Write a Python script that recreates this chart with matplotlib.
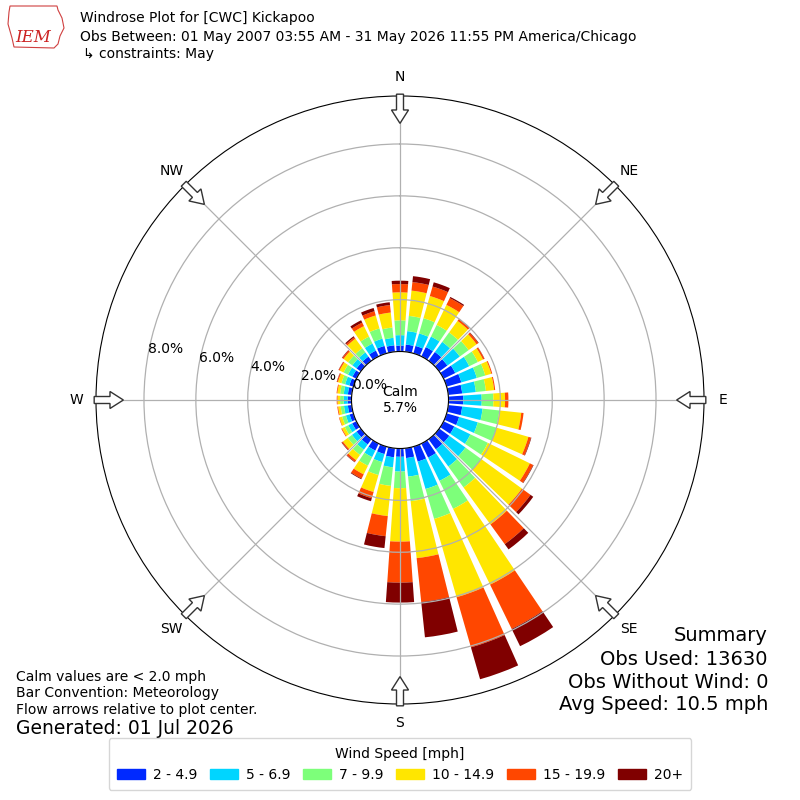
import numpy as np
import matplotlib
matplotlib.use('Agg')
import matplotlib.pyplot as plt
from matplotlib.patches import FancyArrow, Rectangle, Polygon

# wind directions (deg, meteorological) of each bar
directions = np.arange(0, 360, 10)

speed_labels = ['2 - 4.9', '5 - 6.9', '7 - 9.9', '10 - 14.9', '15 - 19.9', '20+']

# cumulative frequency (%) at the top of each speed band
cum_2_5 = [0.23, 0.28, 0.30, 0.40, 0.42, 0.39, 0.50, 0.59, 0.54, 0.57, 0.54, 0.50,
           0.46, 0.48, 0.48, 0.60, 0.60, 0.38, 0.32, 0.35, 0.30, 0.30, 0.25, 0.20,
           0.18, 0.15, 0.15, 0.15, 0.15, 0.16, 0.17, 0.20, 0.20, 0.25, 0.30, 0.25]
cum_2_7 = [0.63, 0.80, 0.80, 0.85, 0.90, 0.98, 1.10, 1.21, 1.07, 1.28, 1.33, 1.25,
           1.15, 1.25, 1.30, 1.60, 1.70, 1.10, 0.89, 0.74, 0.62, 0.58, 0.50, 0.42,
           0.35, 0.30, 0.30, 0.30, 0.31, 0.33, 0.36, 0.40, 0.40, 0.55, 0.59, 0.54]
cum_2_10 = [1.20, 1.39, 1.41, 1.35, 1.35, 1.40, 1.47, 1.55, 1.46, 1.73, 1.98, 2.00,
            1.90, 2.00, 2.30, 2.80, 2.90, 2.05, 1.53, 1.46, 1.14, 0.95, 0.75, 0.62,
            0.50, 0.45, 0.43, 0.44, 0.45, 0.48, 0.55, 0.60, 0.60, 0.85, 1.00, 0.94]
cum_2_15 = [2.28, 2.37, 2.30, 2.21, 1.90, 1.78, 1.69, 1.79, 1.78, 2.18, 2.83, 3.28,
            3.70, 3.94, 4.06, 6.05, 6.04, 4.26, 3.59, 2.63, 1.82, 1.32, 1.00, 0.85,
            0.62, 0.56, 0.53, 0.54, 0.56, 0.62, 0.72, 0.82, 1.05, 1.30, 1.52, 1.52]
cum_2_20 = [2.60, 2.70, 2.68, 2.50, 1.98, 1.86, 1.75, 1.83, 1.82, 2.31, 2.92, 3.38,
            3.84, 4.35, 5.00, 7.95, 8.05, 5.96, 5.17, 3.41, 2.07, 1.50, 1.08, 0.90,
            0.65, 0.58, 0.56, 0.57, 0.59, 0.66, 0.76, 0.88, 1.12, 1.45, 1.69, 1.81]
cum_all = [2.73, 2.93, 2.85, 2.55, 2.00, 1.88, 1.76, 1.83, 1.82, 2.31, 2.92, 3.40,
           3.86, 4.48, 5.25, 8.69, 9.33, 7.33, 5.94, 3.87, 2.19, 1.53, 1.10, 0.92,
           0.65, 0.58, 0.56, 0.57, 0.59, 0.67, 0.77, 0.90, 1.17, 1.55, 1.82, 1.92]

calm_pct = 5.7
obs_used = 13630
obs_no_wind = 0
avg_speed = 10.5

compass = ['N', 'NE', 'E', 'SE', 'S', 'SW', 'W', 'NW']
ring_values = [0, 2, 4, 6, 8]

tops = np.array([cum_2_5, cum_2_7, cum_2_10, cum_2_15, cum_2_20, cum_all])
bottoms = np.vstack([np.zeros(len(directions)), tops[:-1]])
colors = plt.cm.jet(np.linspace(0, 1, 7))[1:]

fig = plt.figure(figsize=(8, 8), dpi=100)
ax = fig.add_axes([0.12, 0.12, 0.76, 0.76], projection='polar')
ax.set_theta_zero_location('N')
ax.set_theta_direction(-1)

theta = np.radians(directions)
for i in range(len(speed_labels)):
    ax.bar(theta, tops[i] - bottoms[i], bottom=bottoms[i], width=np.radians(8),
           color=colors[i], linewidth=0)

ax.set_rorigin(-1.87)
ax.set_ylim(0, 9.85)
ax.set_rgrids(ring_values, [f'{v:.1f}%' for v in ring_values], fontsize=10)
ax.set_rlabel_position(280)
ax.set_thetagrids(range(0, 360, 45), compass, fontsize=10)
ax.tick_params(axis='x', pad=3.5)
ax.grid(True, color='#b0b0b0', lw=0.9)

# flow arrows at the rim, pointing to the centre
for ang in range(0, 360, 45):
    a = np.radians(ang)
    ux, uy = np.sin(a), np.cos(a)
    arr = FancyArrow(0.5 + 0.503 * ux, 0.5 + 0.503 * uy, -0.048 * ux, -0.048 * uy,
                     width=0.0115, head_width=0.028, head_length=0.022,
                     length_includes_head=True, transform=ax.transAxes,
                     facecolor='white', edgecolor='#333333', lw=1, zorder=10,
                     clip_on=False)
    ax.add_artist(arr)

fig.text(0.5, 0.5, f'Calm\n{calm_pct}%', ha='center', va='center', fontsize=10)

# header
fig.text(0.1, 0.9775, 'Windrose Plot for [CWC] Kickapoo', fontsize=10, va='center')
fig.text(0.1, 0.954, 'Obs Between: 01 May 2007 03:55 AM - 31 May 2026 11:55 PM America/Chicago',
         fontsize=10, va='center')
fig.text(0.104, 0.9325, '↳ constraints: May', fontsize=10, va='center')

# crude IEM logo
outline = np.array([(10, 6), (57, 6), (58, 10), (62, 18), (64, 28), (60, 36), (58, 44),
                    (54, 48), (14, 47), (12, 38), (8, 24), (9, 12)])
fig.patches.append(Polygon(np.column_stack([outline[:, 0] / 800, 1 - outline[:, 1] / 800]),
                           closed=True, fill=False, edgecolor='#d04040', lw=0.8,
                           transform=fig.transFigure))
fig.text(0.041, 0.953, 'IEM', color='#cc2222', fontsize=12, family='DejaVu Serif',
         style='italic', ha='center', va='center')

# summary block
fig.text(0.96, 0.206, 'Summary', fontsize=14, ha='right', va='center')
fig.text(0.96, 0.176, f'Obs Used: {obs_used}', fontsize=14, ha='right', va='center')
fig.text(0.96, 0.1475, f'Obs Without Wind: {obs_no_wind}', fontsize=14, ha='right', va='center')
fig.text(0.96, 0.119, f'Avg Speed: {avg_speed} mph', fontsize=14, ha='right', va='center')

fig.text(0.02, 0.154, 'Calm values are < 2.0 mph', fontsize=10, va='center')
fig.text(0.02, 0.134, 'Bar Convention: Meteorology', fontsize=10, va='center')
fig.text(0.02, 0.1125, 'Flow arrows relative to plot center.', fontsize=10, va='center')
fig.text(0.02, 0.089, 'Generated: 01 Jul 2026', fontsize=13.5, va='center')

handles = [Rectangle((0, 0), 1, 1, color=c) for c in colors]
fig.legend(handles, speed_labels, loc='lower center', bbox_to_anchor=(0.5, 0.0125),
           borderaxespad=0, borderpad=0.6, ncol=6, title='Wind Speed [mph]',
           fontsize=10, title_fontsize=10, columnspacing=0.9, handletextpad=0.6)

fig.savefig('out.png', dpi=100)
